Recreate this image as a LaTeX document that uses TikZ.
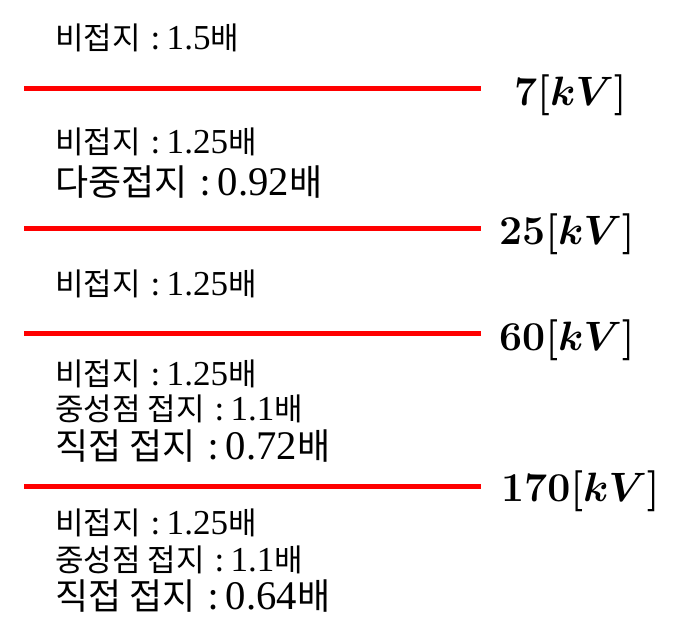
\documentclass[tikz,border=0pt]{standalone}
\usepackage{fix-cm}
\usepackage[no-math]{fontspec}
\setmainfont{Noto Sans CJK KR}
\newfontfamily\num{Liberation Serif}[Scale=1.13]
\newcommand{\csep}{\hspace{0.36em}:\hspace{0.2em}}
\tikzset{
  lbl/.style={anchor=west, inner sep=0pt, font=\fontsize{31}{34}\selectfont},
  biglbl/.style={anchor=west, inner sep=0pt, font=\fontsize{36}{40}\selectfont},
  kv/.style={anchor=west, inner sep=0pt, font=\fontsize{41}{44}\selectfont\boldmath},
  redline/.style={draw=red, line width=5pt}
}
\begin{document}
\begin{tikzpicture}[x=1pt, y=-1pt]
\useasboundingbox (0,0) rectangle (673,634);
% red level lines
\coordinate (a1) at (24,88.5);  \coordinate (b1) at (481,88.5);
\coordinate (a2) at (24,228);   \coordinate (b2) at (481,228);
\coordinate (a3) at (24,333);   \coordinate (b3) at (481,333);
\coordinate (a4) at (24,486);   \coordinate (b4) at (481,486);
\draw[redline] (a1) -- (b1);
\draw[redline] (a2) -- (b2);
\draw[redline] (a3) -- (b3);
\draw[redline] (a4) -- (b4);
% voltage labels
\node[kv] (v1) at (514,95)  {$7[kV]$};
\node[kv] (v2) at (499,234) {$25[kV]$};
\node[kv] (v3) at (499,340) {$60[kV]$};
\node[kv] (v4) at (501,491) {$170[kV]$};
% text blocks
\node[lbl] (t1) at (55,38) {비접지\csep{\num 1.5}배};
\node[lbl] (t2) at (55,142) {비접지\csep{\num 1.25}배};
\node[biglbl] (t3) at (55,182) {다중접지\csep{\num 0.92}배};
\node[lbl] (t4) at (55,284) {비접지\csep{\num 1.25}배};
\node[lbl] (t5) at (55,374) {비접지\csep{\num 1.25}배};
\node[lbl] (t6) at (55,409) {중성점 접지\csep{\num 1.1}배};
\node[biglbl] (t7) at (55,446) {직접 접지\csep{\num 0.72}배};
\node[lbl] (t8) at (55,523) {비접지\csep{\num 1.25}배};
\node[lbl] (t9) at (55,560) {중성점 접지\csep{\num 1.1}배};
\node[biglbl] (t10) at (55,596) {직접 접지\csep{\num 0.64}배};
\end{tikzpicture}
\end{document}
